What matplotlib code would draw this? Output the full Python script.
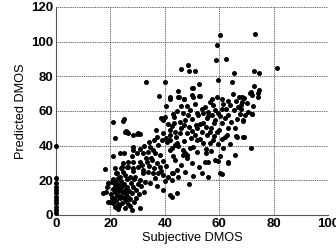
import matplotlib
matplotlib.use("Agg")
import matplotlib.pyplot as plt

plt.rcParams['font.family'] = ['Liberation Sans', 'DejaVu Sans']

# points sitting on the x = 0 axis
zero_pts = [(0, 40), (0, 21.2), (0, 18.3), (0, 16.3), (0, 14.4), (0, 12.5), (0, 10.6),
            (0, 8.7), (0, 6.7), (0, 4.8), (0, 2.9), (0, 1.3)]

# dense lower-left blob
low_pts = [(17.4, 12.9), (18, 26.4), (18.4, 13), (19.2, 18.3), (18.6, 16.3), (19.2, 7.7),
           (19.9, 7.7), (20.3, 12), (20.5, 19), (20.8, 15), (21.1, 6.7), (21.1, 21),
           (21.3, 10), (21.5, 17), (21.7, 13), (21.9, 24), (22, 8.7), (22.1, 19),
           (22.3, 15.5), (22.5, 11.5), (22.6, 6), (22.8, 21.5), (23, 17), (23.2, 13.5),
           (23.4, 9.5), (23.5, 22.1), (23.6, 15), (23.8, 11), (24, 19.5), (24.1, 7),
           (24.3, 16.5), (24.5, 13), (24.7, 24.5), (24.8, 10), (25, 18), (25.2, 14.5),
           (25.4, 3.8), (25.4, 23.1), (25.6, 8), (25.8, 12), (26, 16), (26.2, 20.5),
           (26.4, 27.5), (26.5, 10.5), (26.8, 14), (27, 5), (27.2, 9), (27.2, 22.1),
           (27.4, 18.5), (27.8, 2.9), (28, 12.5), (28.2, 25.5), (28.4, 16), (28.6, 20.5),
           (29, 22.1), (29.3, 9.6), (29.5, 14.5), (30, 18), (30.3, 27.9), (30.6, 12),
           (30.9, 3.8), (30.9, 20.2), (31.2, 16.5), (31.8, 24), (32.1, 26), (32.7, 19.2),
           (32.3, 13), (23, 5.3), (21.6, 4.5), (24, 27), (26.3, 6.5), (20.6, 9.8),
           (22.8, 3.5), (28.5, 7.5), (21.7, 27), (24.2, 27.6), (26, 27.9), (28.4, 27),
           (24.7, 29.8), (26.6, 30.8), (28.4, 30.8), (30.9, 30.8), (33.3, 30.8),
           (35.1, 31.7), (37, 29.8), (38.2, 27.9), (33.9, 25), (35.8, 24), (37.6, 24),
           (39.4, 23.1), (41.3, 22.1), (42.5, 24), (22.3, 24), (34.6, 18.3), (37, 16.4),
           (39.4, 14.4), (41.9, 11.5), (23.5, 36), (25, 36), (28.4, 37.5), (29.7, 35.6),
           (32.1, 35.6), (33.9, 36.5), (34.6, 39.4), (35.8, 37.5), (36.4, 35.6),
           (38.2, 34.6), (27.8, 33.7), (21.1, 33.7), (25.4, 48.1), (28.4, 46.2),
           (30.9, 46.7), (21.7, 44.2), (37, 45.2), (38.8, 43.3), (40.7, 42.3), (41.9, 46.2),
           (42.5, 38.5), (26.2, 48.1), (29.7, 46.7), (28.4, 39.4)]

# upper-left scatter
upleft_pts = [(20.8, 53.8), (24.5, 54.4), (25, 55.4), (33.1, 76.6), (40.2, 76.6), (38, 68.7),
              (41.8, 67.1), (40.6, 62.7), (45, 71.7), (46.9, 66.9), (45.1, 67.9), (38.6, 55.8),
              (39.2, 54.8), (40.1, 56.7), (30, 47.1), (36.7, 49), (41.9, 49), (42.5, 51.3),
              (43.5, 56.7), (25.7, 48.5), (26.5, 47)]

# outliers near the top
top_pts = [(60.3, 103.9), (73.2, 104.4), (59.2, 98), (58.7, 89.4), (62.4, 89.8), (81.1, 85),
           (48.5, 86.4), (46.1, 84.1), (48.9, 82.9), (51.1, 83.3), (65.3, 81.8), (72.9, 83.3),
           (74.8, 81.8)]

# upper band, subjective 45-75
high_pts = [(59.7, 77.7), (64.6, 76.7), (52.6, 75.8), (50.5, 73.1), (49.9, 73.1), (72.8, 74.6),
            (74.6, 72.1), (71.6, 71.1), (74.1, 68.3), (50.5, 68.3), (47.1, 67.1), (52.6, 68.8),
            (65.2, 69.6), (67.4, 68.3), (59.1, 68.3), (57.2, 66.9), (60.9, 66.9), (63.4, 66),
            (64, 63.5), (68.3, 65.4), (67, 62.5), (72.5, 62.9), (70.7, 59.6), (71.9, 58.3),
            (68.9, 54.8), (57.8, 63.5), (58.5, 60.6), (54.8, 62.5), (54.2, 58.7), (48, 62.9),
            (49.3, 60.6), (46.8, 58.7), (52.3, 57.7), (62.1, 55.8), (60.3, 57.1), (55.4, 55.8),
            (63.3, 57.7), (74.1, 70.6), (71.3, 70.6), (72, 69.2), (68.3, 67.9), (69.1, 67.2),
            (70.1, 64.5), (68, 63.5), (68.1, 61), (69.5, 57.7), (72, 58.3), (68.6, 54.4),
            (49.9, 69.2), (52.9, 68.8), (45, 68.3), (41.9, 67.9), (67.6, 58.3), (66, 66),
            (65.5, 60.5), (62.5, 61), (56, 59.5), (51, 64), (53.5, 61), (58, 53), (61.5, 64),
            (44.5, 60), (43, 58), (47.5, 55), (50, 55.5), (56.5, 65), (46, 63), (53, 52.5),
            (55, 51), (64.5, 53.5), (66.5, 55.5)]

# middle band
mid_pts = [(65.8, 50), (66.2, 45.6), (68.9, 45.2), (62.7, 46.2), (63.3, 50), (60.9, 52.9),
           (58.5, 54.8), (69.1, 45), (71.8, 38.5), (65.8, 34.6), (63.4, 30.4), (60.3, 33.7),
           (60.3, 24.4), (60.9, 23.5), (56, 22.1), (49, 17.9), (58.5, 31.7), (59.5, 31.3),
           (54.8, 30.8), (52.7, 27.9), (48, 32.7), (47.4, 35.6), (44.6, 12.5), (42.5, 10.6),
           (63.3, 29.8), (56, 30.8), (43.1, 24), (44.4, 26), (42.5, 20.2), (45, 22.1),
           (48, 34.6), (46.8, 34.6), (43.8, 31.7), (43.1, 33.7), (46.8, 37.5), (51.7, 36.5),
           (49.3, 38.5), (50.5, 39.4), (41.9, 37.5), (44.4, 41.4), (43.8, 40.4), (45, 39.8),
           (54.2, 41.4), (56.6, 41.4), (57.8, 43.3), (62.1, 45.2), (66.4, 45.2), (51.7, 43.3),
           (45.6, 47.1), (48, 47.1), (43.8, 48.1), (51.1, 46.2), (53.6, 48.1), (56.6, 47.6),
           (59.1, 48.1), (40.5, 44.5), (42, 43), (44, 45), (46, 50), (47, 52), (49, 50.5),
           (50, 48.5), (52, 50), (54, 53), (55.5, 46), (57, 50), (58, 45.5), (60, 49),
           (61, 44), (59.5, 41), (55, 38), (53, 44), (51.5, 52), (49.5, 44.5), (47, 42.5),
           (45.5, 53.5), (43.5, 53), (41, 52.5), (39.5, 47), (37.5, 40.5), (36, 43), (34, 42),
           (32.5, 40), (31, 38), (35, 33), (39.5, 31), (40.5, 28), (38.5, 25.5), (36, 27),
           (34, 28.5), (31.5, 29), (33, 33), (36.5, 21.5), (40, 19.5), (47.5, 25), (50.5, 22.5),
           (53.5, 24), (46, 29), (50, 30), (55, 35.5), (57, 37), (61.5, 38.5), (64, 41),
           (56, 57), (52, 59), (48.5, 57.5), (57.5, 57.5), (59.5, 59), (61, 61)]

x_ticks = [0, 20, 40, 60, 80, 100]
y_ticks = [0, 20, 40, 60, 80, 100, 120]

fig = plt.figure(figsize=(3.36, 2.49), dpi=100)
ax = fig.add_axes([0.167, 0.137, 0.809, 0.835])

for group in [zero_pts, low_pts, upleft_pts, top_pts, high_pts, mid_pts]:
    xs = [p[0] for p in group]
    ys = [p[1] for p in group]
    ax.plot(xs, ys, 'o', color='black', markersize=3.6, markeredgewidth=0,
            clip_on=False, zorder=3)

ax.set_xlim(0, 100)
ax.set_ylim(0, 120)
ax.set_xticks(x_ticks)
ax.set_yticks(y_ticks)
ax.set_xticklabels([str(v) for v in x_ticks], fontweight='bold', fontsize=9.5)
ax.set_yticklabels([str(v) for v in y_ticks], fontweight='bold', fontsize=9.5)
ax.tick_params(length=0, pad=2)

ax.grid(True, color='#444444', linestyle=(0, (1.2, 1)), linewidth=0.6)
for side in ['top', 'right']:
    ax.spines[side].set_visible(False)
for side in ['left', 'bottom']:
    ax.spines[side].set_color('#555555')
    ax.spines[side].set_linewidth(0.8)

ax.set_xlabel('Subjective DMOS', fontsize=9.2, labelpad=2)
ax.set_ylabel('Predicted DMOS', fontsize=9.2, labelpad=3)

fig.savefig('out.png', dpi=100)
